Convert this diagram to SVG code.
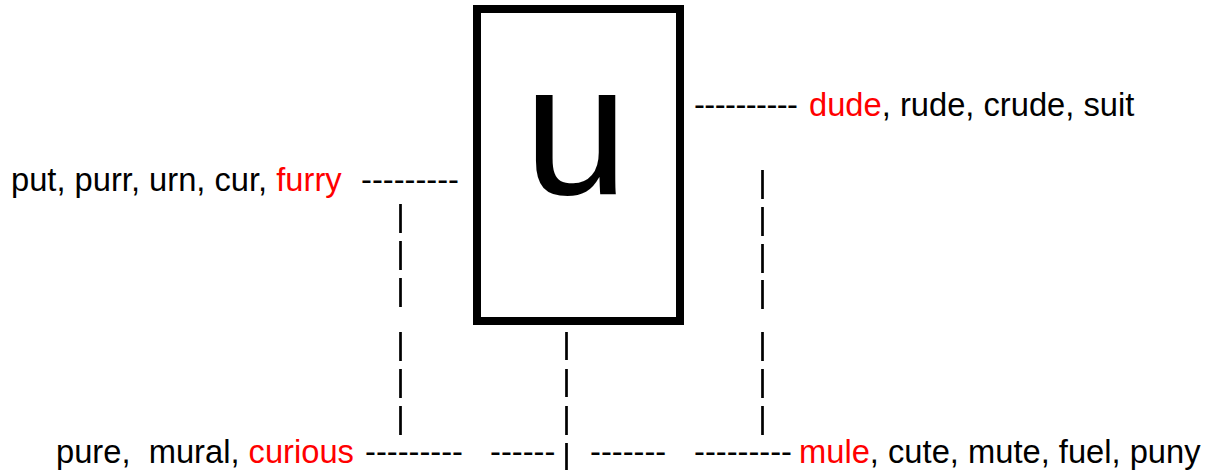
<svg xmlns="http://www.w3.org/2000/svg" width="1209" height="476" viewBox="0 0 1209 476">
<style>
.t{font-family:"Liberation Sans",Arial,sans-serif;font-size:32.7px;fill:#000}
.r{fill:#ff0000}
.v{stroke:#000;stroke-width:2.7;fill:none}
</style>
<rect width="1209" height="476" fill="#fff"/>
<g id="box-u">
<rect x="477" y="9" width="203" height="312" fill="#fff" stroke="#000" stroke-width="8"/>
<text x="576" y="194" text-anchor="middle" style="font-family:'Liberation Sans',Arial,sans-serif;font-size:188px">u</text>
</g>
<g id="words-left">
<text class="t" x="11" y="191">put, purr, urn, cur, <tspan class="r">furry</tspan></text>
</g>
<g id="words-right">
<text class="t" x="809" y="116"><tspan class="r">dude</tspan>, rude, crude, suit</text>
</g>
<g id="words-bottom-left">
<text class="t" x="56" y="463" xml:space="preserve">pure,  mural, <tspan class="r">curious</tspan></text>
</g>
<g id="words-bottom-right">
<text class="t" x="799" y="463"><tspan class="r">mule</tspan>, cute, mute, fuel, puny</text>
</g>
<g id="connectors">
<text class="t" x="361" y="191">---------</text>
<text class="t" x="694" y="116" textLength="104" lengthAdjust="spacing">----------</text>
<text class="t" x="365" y="463">---------</text>
<text class="t" x="490" y="463">------</text>
<text class="t" x="590" y="463">-------</text>
<text class="t" x="694" y="463">---------</text>
<path class="v" d="M400.5 204V233M400.5 241V270M400.5 278V307M400.5 332V361M400.5 369V398M400.5 406V435"/>
<path class="v" d="M762.5 170V199M762.5 207V236M762.5 244V273M762.5 280V309M762.5 332V361M762.5 369V398M762.5 406V435"/>
<path class="v" d="M566.5 332V360M566.5 369V397M566.5 406V435M566.5 443V470"/>
</g>
</svg>
